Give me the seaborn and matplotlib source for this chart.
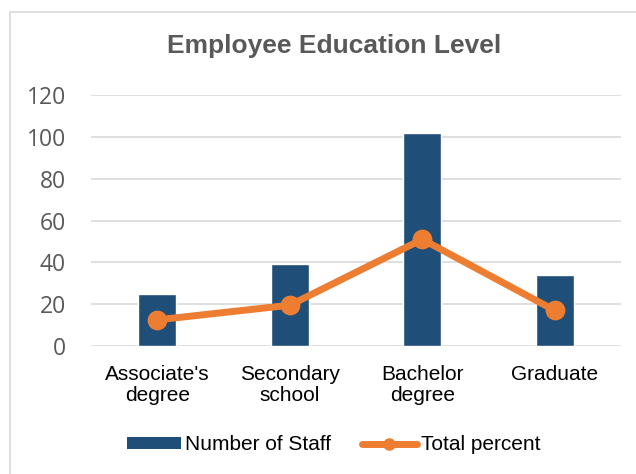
import numpy as np
import pandas as pd
import matplotlib
matplotlib.use("Agg")
import matplotlib.pyplot as plt
import seaborn as sns
from matplotlib.patches import Patch, Rectangle
from matplotlib.lines import Line2D

categories = ["Associate's\ndegree", "Secondary\nschool", "Bachelor\ndegree", "Graduate"]
staff = [25, 39, 102, 34]
percent = [12.5, 19.5, 51.0, 17.0]
yticks = [0, 20, 40, 60, 80, 100, 120]

BAR = "#1F4E79"
ORANGE = "#ED7D31"
GRID = "#D9D9D9"
GREY = "#595959"

sns.set_theme(style="white")
plt.rcParams['font.family'] = ['Liberation Sans', 'DejaVu Sans']

df = pd.DataFrame({"cat": categories, "staff": staff, "pct": percent})

fig = plt.figure(figsize=(6.36, 4.74), dpi=100)
ax = fig.add_axes([91/636, 1-346/474, (621-91)/636, (346-95)/474])

sns.barplot(data=df, x="cat", y="staff", color=BAR, width=0.287, saturation=1,
            ax=ax, zorder=2)
sns.pointplot(data=df, x="cat", y="pct", color=ORANGE, markers="o",
              linestyles="-", ax=ax, markersize=10.5, linewidth=5)
for ln in ax.lines:
    ln.set_zorder(3)

ax.set_xlim(-0.5, 3.5)
ax.set_ylim(0, 120)
ax.set_yticks(yticks)
ax.set_xlabel("")
ax.set_ylabel("")
for s in ax.spines.values():
    s.set_visible(False)
ax.set_axisbelow(True)
ax.yaxis.grid(True, color=GRID, lw=1.2)
ax.xaxis.grid(False)
ax.tick_params(axis="y", length=0, pad=18, labelsize=16.5, labelcolor=GREY)
ax.tick_params(axis="x", length=0, pad=14, labelsize=15, labelcolor="#000000")
for lab in ax.get_yticklabels():
    lab.set_fontfamily(['Open Sans', 'DejaVu Sans'])
for lab in ax.get_xticklabels():
    lab.set_linespacing(1.1)

fig.text(334/636, 1-53/474, "Employee Education Level", ha="center", va="baseline",
         fontsize=19, fontweight="bold", color=GREY)

handles = [Patch(facecolor=BAR, edgecolor="none", label="Number of Staff"),
           Line2D([], [], color=ORANGE, lw=5, marker="o", markersize=8,
                  label="Total percent")]
fig.legend(handles=handles, loc="center", bbox_to_anchor=(333.5/636, 1-445/474),
           ncol=2, frameon=False, fontsize=15, handlelength=2.6, handleheight=0.55,
           handletextpad=0.2, columnspacing=1.5, labelcolor="#000000")

fig.patches.append(Rectangle((10/636, -0.1), 1.2, 1-12/474+0.1, transform=fig.transFigure,
                             fill=False, edgecolor=GRID, lw=1.2))

fig.savefig("out.png", dpi=100)
